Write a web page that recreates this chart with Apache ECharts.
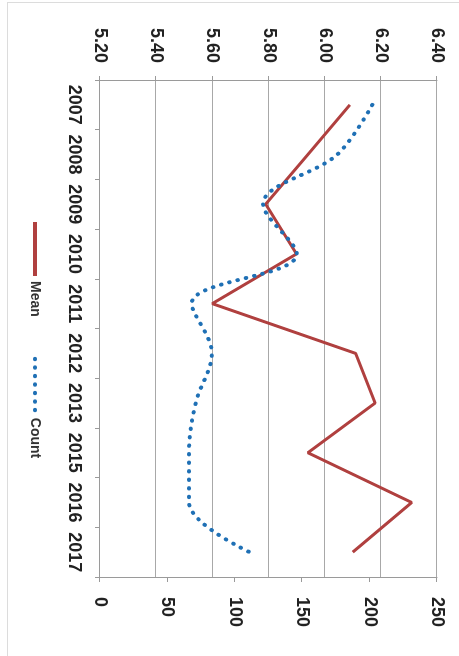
<!DOCTYPE html>
<html>
<head>
<meta charset="utf-8">
<script src="https://cdn.jsdelivr.net/npm/echarts@6/dist/echarts.min.js"></script>
<style>
html, body { margin:0; padding:0; width:459px; height:656px; background:#fff; overflow:hidden; }
#frame { position:absolute; left:7px; top:2px; width:460px; height:660px; border-left:1px solid #dcdcdc; border-top:1px solid #dcdcdc; }
#chart { position:absolute; left:0; top:0; width:656px; height:459px; transform-origin:0 0; transform:translate(459px,0) rotate(90deg); }
</style>
</head>
<body>
<div id="frame"></div>
<div id="chart"></div>
<script>
var years = ['2007','2008','2009','2010','2011','2012','2013','2015','2016','2017'];
var meanValues = [6.09, 5.94, 5.79, 5.90, 5.60, 6.11, 6.18, 5.94, 6.31, 6.10];
var countValues = [202, 176, 121, 146, 68, 83, 71, 66, 66, 111];
var meanTicks = { min: 5.2, max: 6.4, interval: 0.2 };
var countTicks = { min: 0, max: 250, interval: 50 };

var FONT = '"Liberation Sans", Arial, sans-serif';
var labelStyle = { fontFamily: FONT, fontSize: 18, fontWeight: 'bold', color: '#222' };
var RED = '#b0403f', BLUE = '#1f70b5';
var chart = echarts.init(document.getElementById('chart'), null, { renderer: 'canvas' });
chart.setOption({
  animation: false,
  backgroundColor: 'transparent',
  grid: { left: 80, right: 79, top: 22, bottom: 100 },
  legend: {
    left: 215, top: 412,
    itemWidth: 54, itemHeight: 14, itemGap: 40,
    itemStyle: { opacity: 0 },
    textStyle: { fontFamily: FONT, fontSize: 14, fontWeight: 'bold', color: '#333' },
    data: [
      { name: 'Mean', lineStyle: { color: RED, width: 4 } },
      { name: 'Count', lineStyle: { color: BLUE, width: 4, type: [0.5, 8], cap: 'round' } }
    ]
  },
  xAxis: {
    type: 'category', data: years, boundaryGap: true,
    axisLine: { lineStyle: { color: '#9a9a9a', width: 1 } },
    axisTick: { show: true, interval: 0, length: 5, lineStyle: { color: '#9a9a9a' } },
    axisLabel: Object.assign({ margin: 17, interval: 0 }, labelStyle),
    splitLine: { show: false }
  },
  yAxis: [
    {
      type: 'value', position: 'left',
      min: meanTicks.min, max: meanTicks.max, interval: meanTicks.interval,
      axisLine: { show: true, lineStyle: { color: '#9a9a9a', width: 1 } },
      axisTick: { show: true, length: 4, lineStyle: { color: '#9a9a9a' } },
      axisLabel: Object.assign({ margin: 17, formatter: function (v) { return v.toFixed(2); } }, labelStyle),
      splitLine: { show: true, lineStyle: { color: '#a8a8a8', width: 1 } }
    },
    {
      type: 'value', position: 'right',
      min: countTicks.min, max: countTicks.max, interval: countTicks.interval,
      axisLine: { show: true, lineStyle: { color: '#9a9a9a', width: 1 } },
      axisTick: { show: true, length: 5, lineStyle: { color: '#9a9a9a' } },
      axisLabel: Object.assign({ margin: 20 }, labelStyle),
      splitLine: { show: false }
    }
  ],
  series: [
    {
      name: 'Mean', type: 'line', yAxisIndex: 0, data: meanValues,
      symbol: 'none', z: 2,
      itemStyle: { color: RED },
      lineStyle: { color: RED, width: 3 }
    },
    {
      name: 'Count', type: 'line', yAxisIndex: 1, data: countValues,
      symbol: 'none', smooth: 0.35, z: 3,
      itemStyle: { color: BLUE },
      lineStyle: { color: BLUE, width: 4, type: [0.5, 8], cap: 'round' }
    }
  ]
});
</script>
</body>
</html>
